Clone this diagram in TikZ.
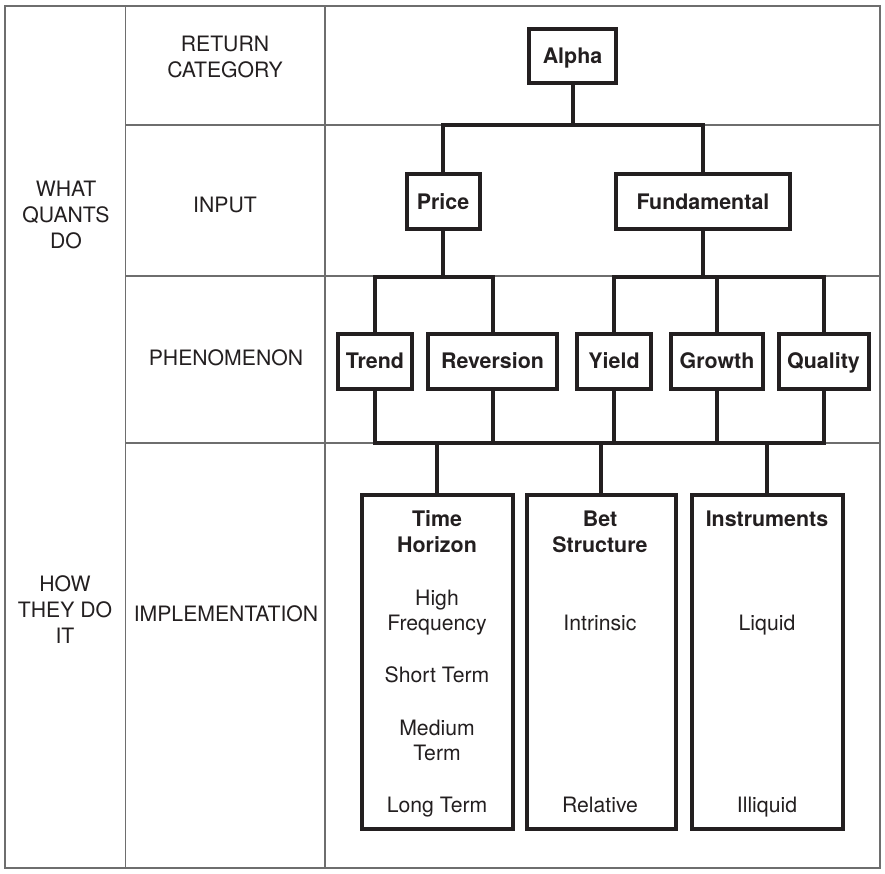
\documentclass[tikz,border=0pt]{standalone}
\usepackage{fontspec}
\setmainfont{TeX Gyre Heros}
\definecolor{ink}{HTML}{231F20}
\definecolor{grid}{HTML}{6E6E6E}
\begin{document}
\begin{tikzpicture}[x=1pt,y=-1pt,
  gridline/.style={draw=grid,line width=1.1},
  tree/.style={draw=ink,line width=4,line cap=rect},
  box/.style={draw=ink,line width=4,inner sep=0pt,text height=15pt,text depth=0pt,
    text=ink,font=\fontsize{21.4}{26}\selectfont\bfseries,minimum height=55},
  implbox/.style={draw=ink,line width=4,inner sep=0pt,minimum height=334,minimum width=151},
  lbl/.style={anchor=base,inner sep=0pt,text=ink,font=\fontsize{21.2}{26}\selectfont},
  hd/.style={anchor=base,inner sep=0pt,text=ink,font=\fontsize{21.4}{26}\selectfont\bfseries}]
\useasboundingbox (0,0) rectangle (885,874);
% grid
\draw[gridline] (5,6) rectangle (880,868);
\draw[gridline] (125.5,6) -- (125.5,868);
\draw[gridline] (325,6) -- (325,868);
\draw[gridline] (125.5,125) -- (880,125);
\draw[gridline] (125.5,276) -- (880,276);
\draw[gridline] (125.5,443) -- (880,443);
% row labels
\node[lbl] (lw1) at (66,197) {WHAT};
\node[lbl] (lw2) at (66,223) {QUANTS};
\node[lbl] (lw3) at (66,249) {DO};
\node[lbl] (lh1) at (65,591) {HOW};
\node[lbl] (lh2) at (65,617) {THEY DO};
\node[lbl] (lh3) at (65,643) {IT};
\node[lbl] (rc1) at (225,52) {RETURN};
\node[lbl] (rc2) at (225,78) {CATEGORY};
\node[lbl] (inp) at (225,213) {INPUT};
\node[lbl] (phe) at (226,365) {PHENOMENON};
\node[lbl] (imp) at (226,621) {IMPLEMENTATION};
% tree nodes
\node[box,minimum width=87,minimum height=54] (alpha) at (572.5,56) {Alpha};
\node[box,minimum width=73] (price) at (443,202) {Price};
\node[box,minimum width=174] (fund) at (703,202) {Fundamental};
\node[box,minimum width=73.5] (trend) at (375,361) {Trend};
\node[box,minimum width=129] (rev) at (492.5,361) {Reversion};
\node[box,minimum width=73.5] (yield) at (614,361) {Yield};
\node[box,minimum width=92] (growth) at (717,361) {Growth};
\node[box,minimum width=90] (qual) at (823.5,361) {Quality};
\node[implbox] (th) at (437,662) {};
\node[implbox,minimum width=149] (bs) at (601,662) {};
\node[implbox] (ins) at (767,662) {};
% bars
\coordinate (b1) at (0,125);
\coordinate (b2) at (0,277);
\coordinate (b3) at (0,443);
% connectors
\draw[tree] (alpha.south) -- (alpha.south |- b1);
\draw[tree] (price.north) -- (price.north |- b1) -- (fund.north |- b1) -- (fund.north);
\draw[tree] (price.south) -- (price.south |- b2);
\draw[tree] (trend.north) -- (trend.north |- b2) -- (rev.north |- b2) -- (rev.north);
\draw[tree] (fund.south) -- (fund.south |- b2);
\draw[tree] (yield.north) -- (yield.north |- b2) -- (qual.north |- b2) -- (qual.north);
\draw[tree] (growth.north) -- (growth.north |- b2);
\draw[tree] (trend.south) -- (trend.south |- b3) -- (qual.south |- b3) -- (qual.south);
\draw[tree] (rev.south) -- (rev.south |- b3);
\draw[tree] (yield.south) -- (yield.south |- b3);
\draw[tree] (growth.south) -- (growth.south |- b3);
\draw[tree] (th.north) -- (th.north |- b3);
\draw[tree] (bs.north) -- (bs.north |- b3);
\draw[tree] (ins.north) -- (ins.north |- b3);
% implementation texts
\node[hd] (th1) at (437,526) {Time};
\node[hd] (th2) at (437,552) {Horizon};
\node[lbl] (th3) at (437,605) {High};
\node[lbl] (th4) at (437,630) {Frequency};
\node[lbl] (th5) at (437,682) {Short Term};
\node[lbl] (th6) at (437,735) {Medium};
\node[lbl] (th7) at (437,760) {Term};
\node[lbl] (th8) at (437,812) {Long Term};
\node[hd] (bs1) at (600,526) {Bet};
\node[hd] (bs2) at (600,552) {Structure};
\node[lbl] (bs3) at (600,630) {Intrinsic};
\node[lbl] (bs4) at (600,812) {Relative};
\node[hd] (in1) at (767,526) {Instruments};
\node[lbl] (in2) at (767,630) {Liquid};
\node[lbl] (in3) at (767,812) {Illiquid};
\end{tikzpicture}
\end{document}
